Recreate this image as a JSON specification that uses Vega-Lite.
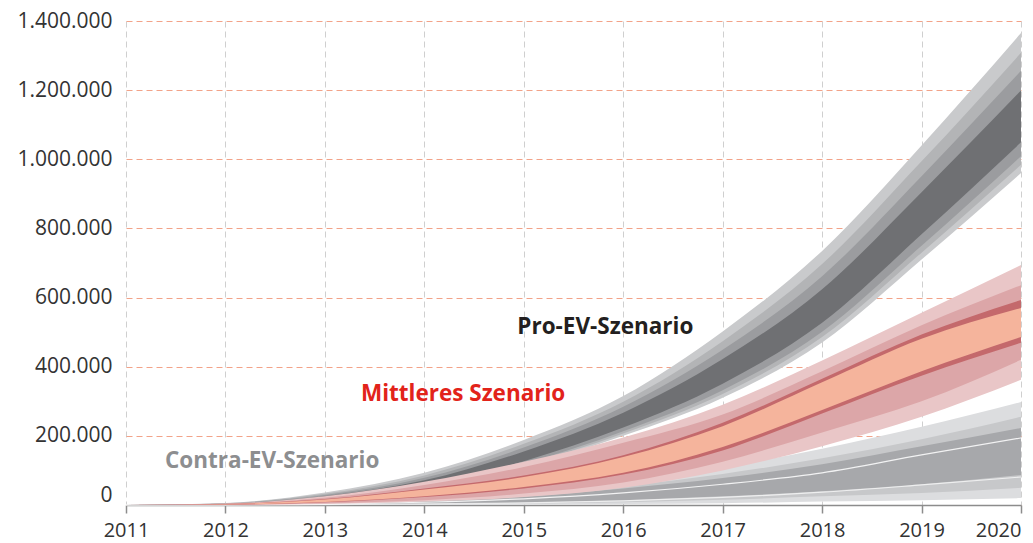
{
  "$schema": "https://vega.github.io/schema/vega-lite/v6.json",
  "width": 895,
  "height": 484,
  "autosize": {"type": "none"},
  "padding": {"left": 126, "top": 21, "right": 12, "bottom": 38},
  "background": "white",
  "config": {
    "view": {"stroke": null},
    "locale": {"number": {"decimal": ",", "thousands": ".", "grouping": [3], "currency": ["", " €"]}},
    "font": "Open Sans"
  },
  "datasets": {
    "fan": [
      {"year": 2011, "p1lo": 0, "p1hi": 0, "p2lo": 0, "p2hi": 0, "p3lo": 0, "p3hi": 0, "p4lo": 0, "p4hi": 0, "m1lo": 0, "m1hi": 0, "m2lo": 0, "m2hi": 0, "m3lo": 0, "m3hi": 0, "m4lo": 0, "m4hi": 0, "c1lo": 0, "c1hi": 0, "c2lo": 0, "c2hi": 0, "c3lo": 0, "c3hi": 0, "cl1": 0, "cl2": 0},
      {"year": 2012, "p1lo": 0, "p1hi": 6000, "p2lo": 400, "p2hi": 5200, "p3lo": 700, "p3hi": 4400, "p4lo": 1300, "p4hi": 3500, "m1lo": 0, "m1hi": 4000, "m2lo": 500, "m2hi": 3500, "m3lo": 1000, "m3hi": 3000, "m4lo": 1200, "m4hi": 2800, "c1lo": 0, "c1hi": 1000, "c2lo": 100, "c2hi": 800, "c3lo": 200, "c3hi": 600, "cl1": 400, "cl2": 150},
      {"year": 2013, "p1lo": 10000, "p1hi": 36000, "p2lo": 11600, "p2hi": 32400, "p3lo": 13100, "p3hi": 29000, "p4lo": 15700, "p4hi": 25300, "m1lo": 3000, "m1hi": 25000, "m2lo": 5000, "m2hi": 21000, "m3lo": 8000, "m3hi": 17000, "m4lo": 9000, "m4hi": 16000, "c1lo": 0, "c1hi": 5000, "c2lo": 500, "c2hi": 4000, "c3lo": 1000, "c3hi": 3200, "cl1": 2500, "cl2": 900},
      {"year": 2014, "p1lo": 40000, "p1hi": 93000, "p2lo": 43200, "p2hi": 85600, "p3lo": 46400, "p3hi": 78700, "p4lo": 51700, "p4hi": 71300, "m1lo": 10000, "m1hi": 67000, "m2lo": 14000, "m2hi": 58000, "m3lo": 23000, "m3hi": 48000, "m4lo": 25000, "m4hi": 45000, "c1lo": 500, "c1hi": 15000, "c2lo": 2000, "c2hi": 12000, "c3lo": 3000, "c3hi": 10000, "cl1": 8000, "cl2": 3000},
      {"year": 2015, "p1lo": 110000, "p1hi": 188000, "p2lo": 114500, "p2hi": 177000, "p3lo": 119000, "p3hi": 166000, "p4lo": 126500, "p4hi": 155000, "m1lo": 23000, "m1hi": 125000, "m2lo": 33000, "m2hi": 110000, "m3lo": 48000, "m3hi": 85000, "m4lo": 52000, "m4hi": 81000, "c1lo": 1000, "c1hi": 35000, "c2lo": 4000, "c2hi": 28000, "c3lo": 7000, "c3hi": 24000, "cl1": 18000, "cl2": 6000},
      {"year": 2016, "p1lo": 200000, "p1hi": 315000, "p2lo": 206600, "p2hi": 299000, "p3lo": 213200, "p3hi": 284000, "p4lo": 224200, "p4hi": 267000, "m1lo": 50000, "m1hi": 195000, "m2lo": 65000, "m2hi": 180000, "m3lo": 88000, "m3hi": 144000, "m4lo": 93000, "m4hi": 139000, "c1lo": 3000, "c1hi": 70000, "c2lo": 8000, "c2hi": 55000, "c3lo": 14000, "c3hi": 48000, "cl1": 35000, "cl2": 12000},
      {"year": 2017, "p1lo": 310000, "p1hi": 502000, "p2lo": 321000, "p2hi": 474000, "p3lo": 332000, "p3hi": 449000, "p4lo": 351000, "p4hi": 422000, "m1lo": 100000, "m1hi": 290000, "m2lo": 125000, "m2hi": 262000, "m3lo": 158000, "m3hi": 238000, "m4lo": 168000, "m4hi": 228000, "c1lo": 5000, "c1hi": 110000, "c2lo": 15000, "c2hi": 90000, "c3lo": 25000, "c3hi": 78000, "cl1": 60000, "cl2": 22000},
      {"year": 2018, "p1lo": 470000, "p1hi": 735000, "p2lo": 486000, "p2hi": 697000, "p3lo": 501000, "p3hi": 662000, "p4lo": 527000, "p4hi": 624000, "m1lo": 170000, "m1hi": 418000, "m2lo": 210000, "m2hi": 387000, "m3lo": 265000, "m3hi": 365000, "m4lo": 275000, "m4hi": 355000, "c1lo": 10000, "c1hi": 163000, "c2lo": 25000, "c2hi": 135000, "c3lo": 40000, "c3hi": 118000, "cl1": 93000, "cl2": 37000},
      {"year": 2019, "p1lo": 710000, "p1hi": 1040000, "p2lo": 730000, "p2hi": 994000, "p3lo": 750000, "p3hi": 951000, "p4lo": 783000, "p4hi": 905000, "m1lo": 255000, "m1hi": 556000, "m2lo": 300000, "m2hi": 520000, "m3lo": 374000, "m3hi": 493000, "m4lo": 387000, "m4hi": 481000, "c1lo": 14000, "c1hi": 226000, "c2lo": 35000, "c2hi": 190000, "c3lo": 60000, "c3hi": 170000, "cl1": 145000, "cl2": 58000},
      {"year": 2020, "p1lo": 960000, "p1hi": 1365000, "p2lo": 984000, "p2hi": 1308000, "p3lo": 1009000, "p3hi": 1256000, "p4lo": 1049000, "p4hi": 1199000, "m1lo": 362000, "m1hi": 694000, "m2lo": 420000, "m2hi": 636000, "m3lo": 469000, "m3hi": 593000, "m4lo": 486000, "m4hi": 570000, "c1lo": 20000, "c1hi": 298000, "c2lo": 50000, "c2hi": 255000, "c3lo": 87000, "c3hi": 223000, "cl1": 194000, "cl2": 81000}
    ],
    "labels": [
      {"x": 2015.82, "y": 515000, "label": "Pro-EV-Szenario"},
      {"x": 2014.39, "y": 321000, "label": "Mittleres Szenario"},
      {"x": 2012.47, "y": 127000, "label": "Contra-EV-Szenario"}
    ]
  },
  "data": {"name": "fan"},
  "layer": [
    {
      "mark": {"type": "area", "color": "#dcdddf", "interpolate": "monotone"},
      "encoding": {
        "x": {"field": "year", "type": "quantitative", "title": null,
          "scale": {"domain": [2011, 2020], "nice": false, "zero": false},
          "axis": {"values": [2011, 2012, 2013, 2014, 2015, 2016, 2017, 2018, 2019, 2020], "format": "d",
            "grid": true, "gridColor": "#cfcfcf", "gridDash": [6, 4], "gridWidth": 1,
            "domainColor": "#8c8c8c", "domainWidth": 1.5, "tickColor": "#8c8c8c", "tickWidth": 1.5, "tickSize": 8,
            "labelFont": "Open Sans", "labelFontSize": 20, "labelColor": "#333333", "labelPadding": 7,
            "labelAlign": {"condition": {"test": "datum.value == 2020", "value": "right"}, "value": "center"}}},
        "y": {"field": "c1hi", "type": "quantitative", "title": null,
          "scale": {"domain": [0, 1400000], "nice": false},
          "axis": {"values": [0, 200000, 400000, 600000, 800000, 1000000, 1200000, 1400000], "format": ",d",
            "grid": true, "gridColor": "#f2a389", "gridDash": [6, 4], "gridWidth": 1,
            "domain": false, "ticks": false, "labelPadding": 14,
            "labelFont": "Open Sans", "labelFontSize": 21, "labelColor": "#333333",
            "labelBaseline": {"condition": {"test": "datum.value == 0", "value": "bottom"}, "value": "middle"}}},
        "y2": {"field": "c1lo"}
      }
    },
    {"mark": {"type": "area", "color": "#c7c8ca", "interpolate": "monotone"},
      "encoding": {"x": {"field": "year", "type": "quantitative", "title": null}, "y": {"field": "c2hi", "type": "quantitative", "title": null}, "y2": {"field": "c2lo"}}},
    {"mark": {"type": "area", "color": "#a7a8ab", "interpolate": "monotone"},
      "encoding": {"x": {"field": "year", "type": "quantitative", "title": null}, "y": {"field": "c3hi", "type": "quantitative", "title": null}, "y2": {"field": "c3lo"}}},
    {"mark": {"type": "line", "color": "#ffffff", "strokeWidth": 1.2, "opacity": 0.85, "interpolate": "monotone"},
      "encoding": {"x": {"field": "year", "type": "quantitative", "title": null}, "y": {"field": "cl1", "type": "quantitative", "title": null}}},
    {"mark": {"type": "line", "color": "#ffffff", "strokeWidth": 1.2, "opacity": 0.7, "interpolate": "monotone"},
      "encoding": {"x": {"field": "year", "type": "quantitative", "title": null}, "y": {"field": "cl2", "type": "quantitative", "title": null}}},
    {"mark": {"type": "area", "color": "#c9cacc", "interpolate": "monotone"},
      "encoding": {"x": {"field": "year", "type": "quantitative", "title": null}, "y": {"field": "p1hi", "type": "quantitative", "title": null}, "y2": {"field": "p1lo"}}},
    {"mark": {"type": "area", "color": "#b3b4b6", "interpolate": "monotone"},
      "encoding": {"x": {"field": "year", "type": "quantitative", "title": null}, "y": {"field": "p2hi", "type": "quantitative", "title": null}, "y2": {"field": "p2lo"}}},
    {"mark": {"type": "area", "color": "#9b9c9f", "interpolate": "monotone"},
      "encoding": {"x": {"field": "year", "type": "quantitative", "title": null}, "y": {"field": "p3hi", "type": "quantitative", "title": null}, "y2": {"field": "p3lo"}}},
    {"mark": {"type": "area", "color": "#6f7073", "interpolate": "monotone"},
      "encoding": {"x": {"field": "year", "type": "quantitative", "title": null}, "y": {"field": "p4hi", "type": "quantitative", "title": null}, "y2": {"field": "p4lo"}}},
    {"mark": {"type": "area", "color": "#e9c6c7", "interpolate": "monotone"},
      "encoding": {"x": {"field": "year", "type": "quantitative", "title": null}, "y": {"field": "m1hi", "type": "quantitative", "title": null}, "y2": {"field": "m1lo"}}},
    {"mark": {"type": "area", "color": "#dca6a8", "interpolate": "monotone"},
      "encoding": {"x": {"field": "year", "type": "quantitative", "title": null}, "y": {"field": "m2hi", "type": "quantitative", "title": null}, "y2": {"field": "m2lo"}}},
    {"mark": {"type": "area", "color": "#c4696c", "interpolate": "monotone"},
      "encoding": {"x": {"field": "year", "type": "quantitative", "title": null}, "y": {"field": "m3hi", "type": "quantitative", "title": null}, "y2": {"field": "m3lo"}}},
    {"mark": {"type": "area", "color": "#f5b49c", "interpolate": "monotone"},
      "encoding": {"x": {"field": "year", "type": "quantitative", "title": null}, "y": {"field": "m4hi", "type": "quantitative", "title": null}, "y2": {"field": "m4lo"}}},
    {
      "data": {"name": "labels"},
      "mark": {"type": "text", "font": "Open Sans", "fontWeight": "bold", "fontSize": 22.5, "align": "center", "baseline": "middle"},
      "encoding": {
        "x": {"field": "x", "type": "quantitative", "title": null},
        "y": {"field": "y", "type": "quantitative", "title": null},
        "text": {"field": "label"},
        "color": {"field": "label", "type": "nominal", "legend": null,
          "scale": {"domain": ["Pro-EV-Szenario", "Mittleres Szenario", "Contra-EV-Szenario"], "range": ["#231f20", "#e2231a", "#8d8e90"]}}
      }
    }
  ]
}
